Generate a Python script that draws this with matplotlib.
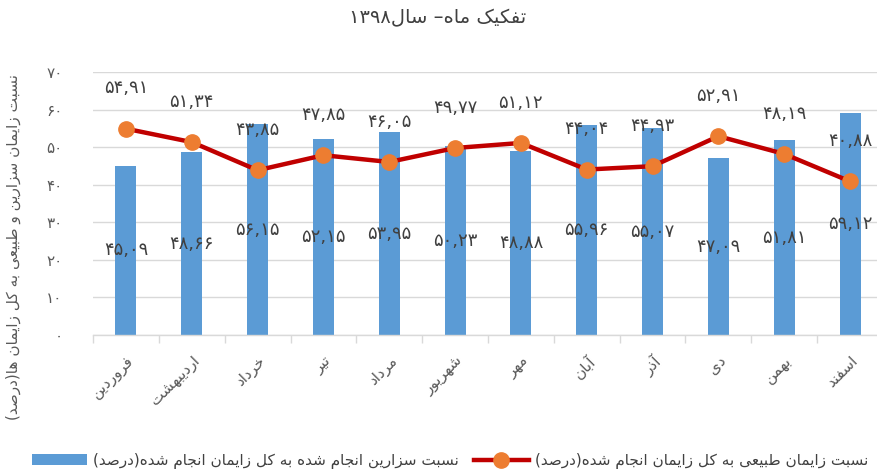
import re
import matplotlib
matplotlib.use("Agg")
import matplotlib.pyplot as plt
from matplotlib.ticker import FixedLocator

plt.rcParams['font.family'] = ['DejaVu Sans']

# ---------------- data ----------------
months = ["فروردین", "اردیبهشت", "خرداد", "تیر", "مرداد", "شهریور",
          "مهر", "آبان", "آذر", "دی", "بهمن", "اسفند"]
cesarean = [45.09, 48.66, 56.15, 52.15, 53.95, 50.23, 48.88, 55.96, 55.07, 47.09, 51.81, 59.12]
natural = [54.91, 51.34, 43.85, 47.85, 46.05, 49.77, 51.12, 44.04, 44.93, 52.91, 48.19, 40.88]
yticks = [0, 10, 20, 30, 40, 50, 60, 70]
title = "تفکیک ماه– سال۱۳۹۸"
ylabel = "نسبت زایمان سزارین و طبیعی به کل زایمان ها(درصد)"
bar_label = "نسبت سزارین انجام شده به کل زایمان انجام شده(درصد)"
line_label = "نسبت زایمان طبیعی به کل زایمان انجام شده(درصد)"

# ---------------- Arabic/Persian shaping ----------------
FORMS = {
    'ا': ('\uFE8D', '\uFE8E'), 'آ': ('\uFE81', '\uFE82'),
    'ب': ('\uFE8F', '\uFE90', '\uFE91', '\uFE92'),
    'پ': ('\uFB56', '\uFB57', '\uFB58', '\uFB59'),
    'ت': ('\uFE95', '\uFE96', '\uFE97', '\uFE98'),
    'ث': ('\uFE99', '\uFE9A', '\uFE9B', '\uFE9C'),
    'ج': ('\uFE9D', '\uFE9E', '\uFE9F', '\uFEA0'),
    'چ': ('\uFB7A', '\uFB7B', '\uFB7C', '\uFB7D'),
    'ح': ('\uFEA1', '\uFEA2', '\uFEA3', '\uFEA4'),
    'خ': ('\uFEA5', '\uFEA6', '\uFEA7', '\uFEA8'),
    'د': ('\uFEA9', '\uFEAA'), 'ذ': ('\uFEAB', '\uFEAC'),
    'ر': ('\uFEAD', '\uFEAE'), 'ز': ('\uFEAF', '\uFEB0'),
    'ژ': ('\uFB8A', '\uFB8B'),
    'س': ('\uFEB1', '\uFEB2', '\uFEB3', '\uFEB4'),
    'ش': ('\uFEB5', '\uFEB6', '\uFEB7', '\uFEB8'),
    'ص': ('\uFEB9', '\uFEBA', '\uFEBB', '\uFEBC'),
    'ض': ('\uFEBD', '\uFEBE', '\uFEBF', '\uFEC0'),
    'ط': ('\uFEC1', '\uFEC2', '\uFEC3', '\uFEC4'),
    'ظ': ('\uFEC5', '\uFEC6', '\uFEC7', '\uFEC8'),
    'ع': ('\uFEC9', '\uFECA', '\uFECB', '\uFECC'),
    'غ': ('\uFECD', '\uFECE', '\uFECF', '\uFED0'),
    'ف': ('\uFED1', '\uFED2', '\uFED3', '\uFED4'),
    'ق': ('\uFED5', '\uFED6', '\uFED7', '\uFED8'),
    'ک': ('\uFB8E', '\uFB8F', '\uFB90', '\uFB91'),
    'گ': ('\uFB92', '\uFB93', '\uFB94', '\uFB95'),
    'ل': ('\uFEDD', '\uFEDE', '\uFEDF', '\uFEE0'),
    'م': ('\uFEE1', '\uFEE2', '\uFEE3', '\uFEE4'),
    'ن': ('\uFEE5', '\uFEE6', '\uFEE7', '\uFEE8'),
    'ه': ('\uFEE9', '\uFEEA', '\uFEEB', '\uFEEC'),
    'و': ('\uFEED', '\uFEEE'),
    'ی': ('\uFBFC', '\uFBFD', '\uFBFE', '\uFBFF'),
    'ي': ('\uFEF1', '\uFEF2', '\uFEF3', '\uFEF4'),
}


def dual(c):
    return c in FORMS and len(FORMS[c]) == 4


def shape(s):
    out = []
    i, n = 0, len(s)
    while i < n:
        c = s[i]
        if c not in FORMS:
            out.append(c)
            i += 1
            continue
        cp = i > 0 and dual(s[i - 1])
        if c == 'ل' and i + 1 < n and s[i + 1] in ('ا', 'آ'):
            lig = {'ا': ('\uFEFB', '\uFEFC'), 'آ': ('\uFEF5', '\uFEF6')}[s[i + 1]]
            out.append(lig[1] if cp else lig[0])
            i += 2
            continue
        cn = dual(c) and i + 1 < n and s[i + 1] in FORMS
        f = FORMS[c]
        if cp and cn:
            out.append(f[3])
        elif cn:
            out.append(f[2])
        elif cp:
            out.append(f[1])
        else:
            out.append(f[0])
        i += 1
    return ''.join(out)


def rtl(s):
    v = shape(s)[::-1]
    v = v.translate(str.maketrans('()', ')('))
    v = re.sub(r'[0-9\u06F0-\u06F9]+(?:[.,\u066B][0-9\u06F0-\u06F9]+)*',
               lambda m: m.group(0)[::-1], v)
    return v


PDIG = str.maketrans('0123456789.', '۰۱۲۳۴۵۶۷۸۹,')


def fa(x, fmt="{:.2f}"):
    return fmt.format(x).translate(PDIG)


# ---------------- plot ----------------
fig = plt.figure(figsize=(8.77, 4.75), dpi=100)
ax = fig.add_axes([93 / 877, 140 / 475, 790 / 877, 263 / 475])

x = list(range(len(months)))
bars = ax.bar(x, cesarean, width=0.32, color='#5b9bd5', zorder=2, label=rtl(bar_label))
line, = ax.plot(x, natural, color='#c00000', linewidth=3.2, marker='o',
                markersize=11, markerfacecolor='#ed7d31', markeredgecolor='#ed7d31',
                zorder=3, label=rtl(line_label))

lab_color = '#404040'
for xi, v in zip(x, cesarean):
    ax.text(xi, v / 2, fa(v), ha='center', va='center', fontsize=13,
            color=lab_color, zorder=4)
for xi, v in zip(x, natural):
    ax.annotate(fa(v), (xi, v), xytext=(0, 29), textcoords='offset points',
                ha='center', va='center', fontsize=13, color=lab_color, zorder=4)

ax.set_xlim(-0.5, 11.5)
ax.set_ylim(0, 70)
ax.set_yticks(yticks)
ax.set_yticklabels([fa(t, "{:d}") for t in yticks])
ax.yaxis.grid(True, color='#d9d9d9', linewidth=1, zorder=0)
ax.set_axisbelow(True)

ax.set_xticks(x)
ax.set_xticklabels([rtl(m) for m in months], rotation=45, ha='right', va='top',
                   rotation_mode='anchor')
ax.xaxis.set_minor_locator(FixedLocator([i - 0.5 for i in range(13)]))
ax.tick_params(axis='x', which='major', length=0, pad=13, labelsize=11, labelcolor='#595959')
ax.tick_params(axis='x', which='minor', length=6, color='#d9d9d9', width=1)
ax.tick_params(axis='y', length=0, pad=22, labelsize=11, labelcolor='#595959')

for side in ('top', 'right', 'left'):
    ax.spines[side].set_visible(False)
ax.spines['bottom'].set_color('#d9d9d9')
ax.spines['bottom'].set_linewidth(1)

fig.text(438 / 877, 1 - 18 / 475, rtl(title), ha='center', va='center',
         fontsize=14, color='#404040')
fig.text(13 / 877, 1 - 247 / 475, rtl(ylabel), rotation=90, ha='center',
         va='center', fontsize=11, color='#595959')

fig.legend(handles=[bars, line], loc='center', ncol=2, frameon=False,
           bbox_to_anchor=(450 / 877, 14 / 475), fontsize=11,
           handlelength=3.6, columnspacing=1.0, handletextpad=0.4,
           labelcolor='#404040')

fig.savefig('out.png', dpi=100)
